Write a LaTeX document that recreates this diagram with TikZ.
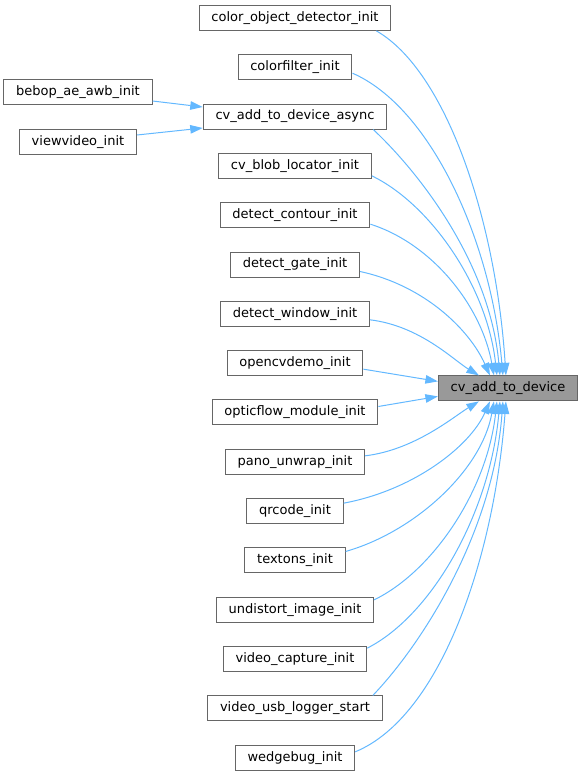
\documentclass[tikz,border=0pt]{standalone}
\usepackage{fontspec}
\setmainfont{DejaVu Sans}
\usetikzlibrary{arrows.meta,calc}
\definecolor{edgeblue}{HTML}{63B8FF}
\definecolor{boxgray}{HTML}{666666}
\definecolor{targetfill}{HTML}{999999}
\begin{document}
\begin{tikzpicture}[x=1pt,y=-1pt,
  fn/.style={draw=boxgray,line width=1pt,fill=white,rectangle,minimum height=25pt,
    inner xsep=12.3pt,inner ysep=0pt,text height=9.9pt,text depth=3.1pt,
    font=\fontsize{13}{15}\selectfont},
  tgt/.style={fn,fill=targetfill},
  call/.style={draw=edgeblue,line width=1pt,-{Triangle[length=12.5pt,width=8.5pt]}}]
\useasboundingbox (0,0) rectangle (583,776);
% middle column
\node[fn] (co) at (295,17.85) {color\_object\_detector\_init};
\node[fn] (cf) at (295,67.18) {colorfilter\_init};
\node[fn] (async) at (295,116.51) {cv\_add\_to\_device\_async};
\node[fn] (blob) at (295,165.84) {cv\_blob\_locator\_init};
\node[fn] (contour) at (295,215.17) {detect\_contour\_init};
\node[fn] (gate) at (295,264.5) {detect\_gate\_init};
\node[fn] (window) at (295,313.83) {detect\_window\_init};
\node[fn] (ocv) at (295,363.16) {opencvdemo\_init};
\node[fn] (of) at (295,412.49) {opticflow\_module\_init};
\node[fn] (pano) at (295,461.82) {pano\_unwrap\_init};
\node[fn] (qr) at (295,511.15) {qrcode\_init};
\node[fn] (tex) at (295,560.48) {textons\_init};
\node[fn] (und) at (295,609.81) {undistort\_image\_init};
\node[fn] (vcap) at (295,659.14) {video\_capture\_init};
\node[fn] (vusb) at (295,708.47) {video\_usb\_logger\_start};
\node[fn] (wedge) at (295,757.8) {wedgebug\_init};
% left column
\node[fn] (bebop) at (78,92.2) {bebop\_ae\_awb\_init};
\node[fn] (vv) at (78,141.6) {viewvideo\_init};
% target
\node[tgt] (T) at (508,388.4) {cv\_add\_to\_device};
% left edges
\draw[call] ($(bebop.east)+(0,8.8)$) -- ($(async.west)+(0,-9.5)$);
\draw[call] ($(vv.east)+(0,-6.6)$) -- ($(async.west)+(0,11.5)$);
% upper edges
\draw[call] ($(co.south east)+(-15,0)$) .. controls +(70,40) and +(-10,-155) .. ($(T.north west)+(68,0)$);
\draw[call] ($(cf.east)+(0,6)$) .. controls +(78,34) and +(-12,-136) .. ($(T.north west)+(65,0)$);
\draw[call] ($(async.south east)+(-14,0)$) .. controls +(48,45) and +(-10,-111) .. ($(T.north west)+(62,0)$);
\draw[call] ($(blob.east)+(0,10)$) .. controls +(58,28) and +(-10,-90) .. ($(T.north west)+(59,0)$);
\draw[call] ($(contour.east)+(0,9)$) .. controls +(63,20) and +(-12,-68) .. ($(T.north west)+(56,0)$);
\draw[call] ($(gate.east)+(0,7)$) .. controls +(65,14) and +(-20,-45) .. ($(T.north west)+(52,0)$);
\draw[call] ($(window.east)+(0,6)$) .. controls +(50,6) and +(-25,-15) .. ($(T.north west)+(41,0)$);
\draw[call] ($(ocv.east)+(0,6)$) -- ($(T.west)+(0,-7)$);
\draw[call] ($(of.east)+(0,-6)$) -- ($(T.west)+(0,8)$);
% lower edges
\draw[call] ($(pano.east)+(0,-6)$) .. controls +(50,-6) and +(-25,15) .. ($(T.south west)+(41,0)$);
\draw[call] ($(qr.east)+(0,-8)$) .. controls +(70,-13) and +(-20,45) .. ($(T.south west)+(52,0)$);
\draw[call] ($(tex.east)+(0,-9)$) .. controls +(70,-20) and +(-12,68) .. ($(T.south west)+(56,0)$);
\draw[call] ($(und.east)+(0,-10)$) .. controls +(58,-28) and +(-10,90) .. ($(T.south west)+(59,0)$);
\draw[call] ($(vcap.east)+(0,-11)$) .. controls +(65,-33) and +(-10,111) .. ($(T.south west)+(62,0)$);
\draw[call] ($(vusb.north east)+(-10,0)$) .. controls +(48,-50) and +(-10,133) .. ($(T.south west)+(65,0)$);
\draw[call] ($(wedge.east)+(0,-6)$) .. controls +(85,-35) and +(-12,158) .. ($(T.south west)+(68,0)$);
\end{tikzpicture}
\end{document}
